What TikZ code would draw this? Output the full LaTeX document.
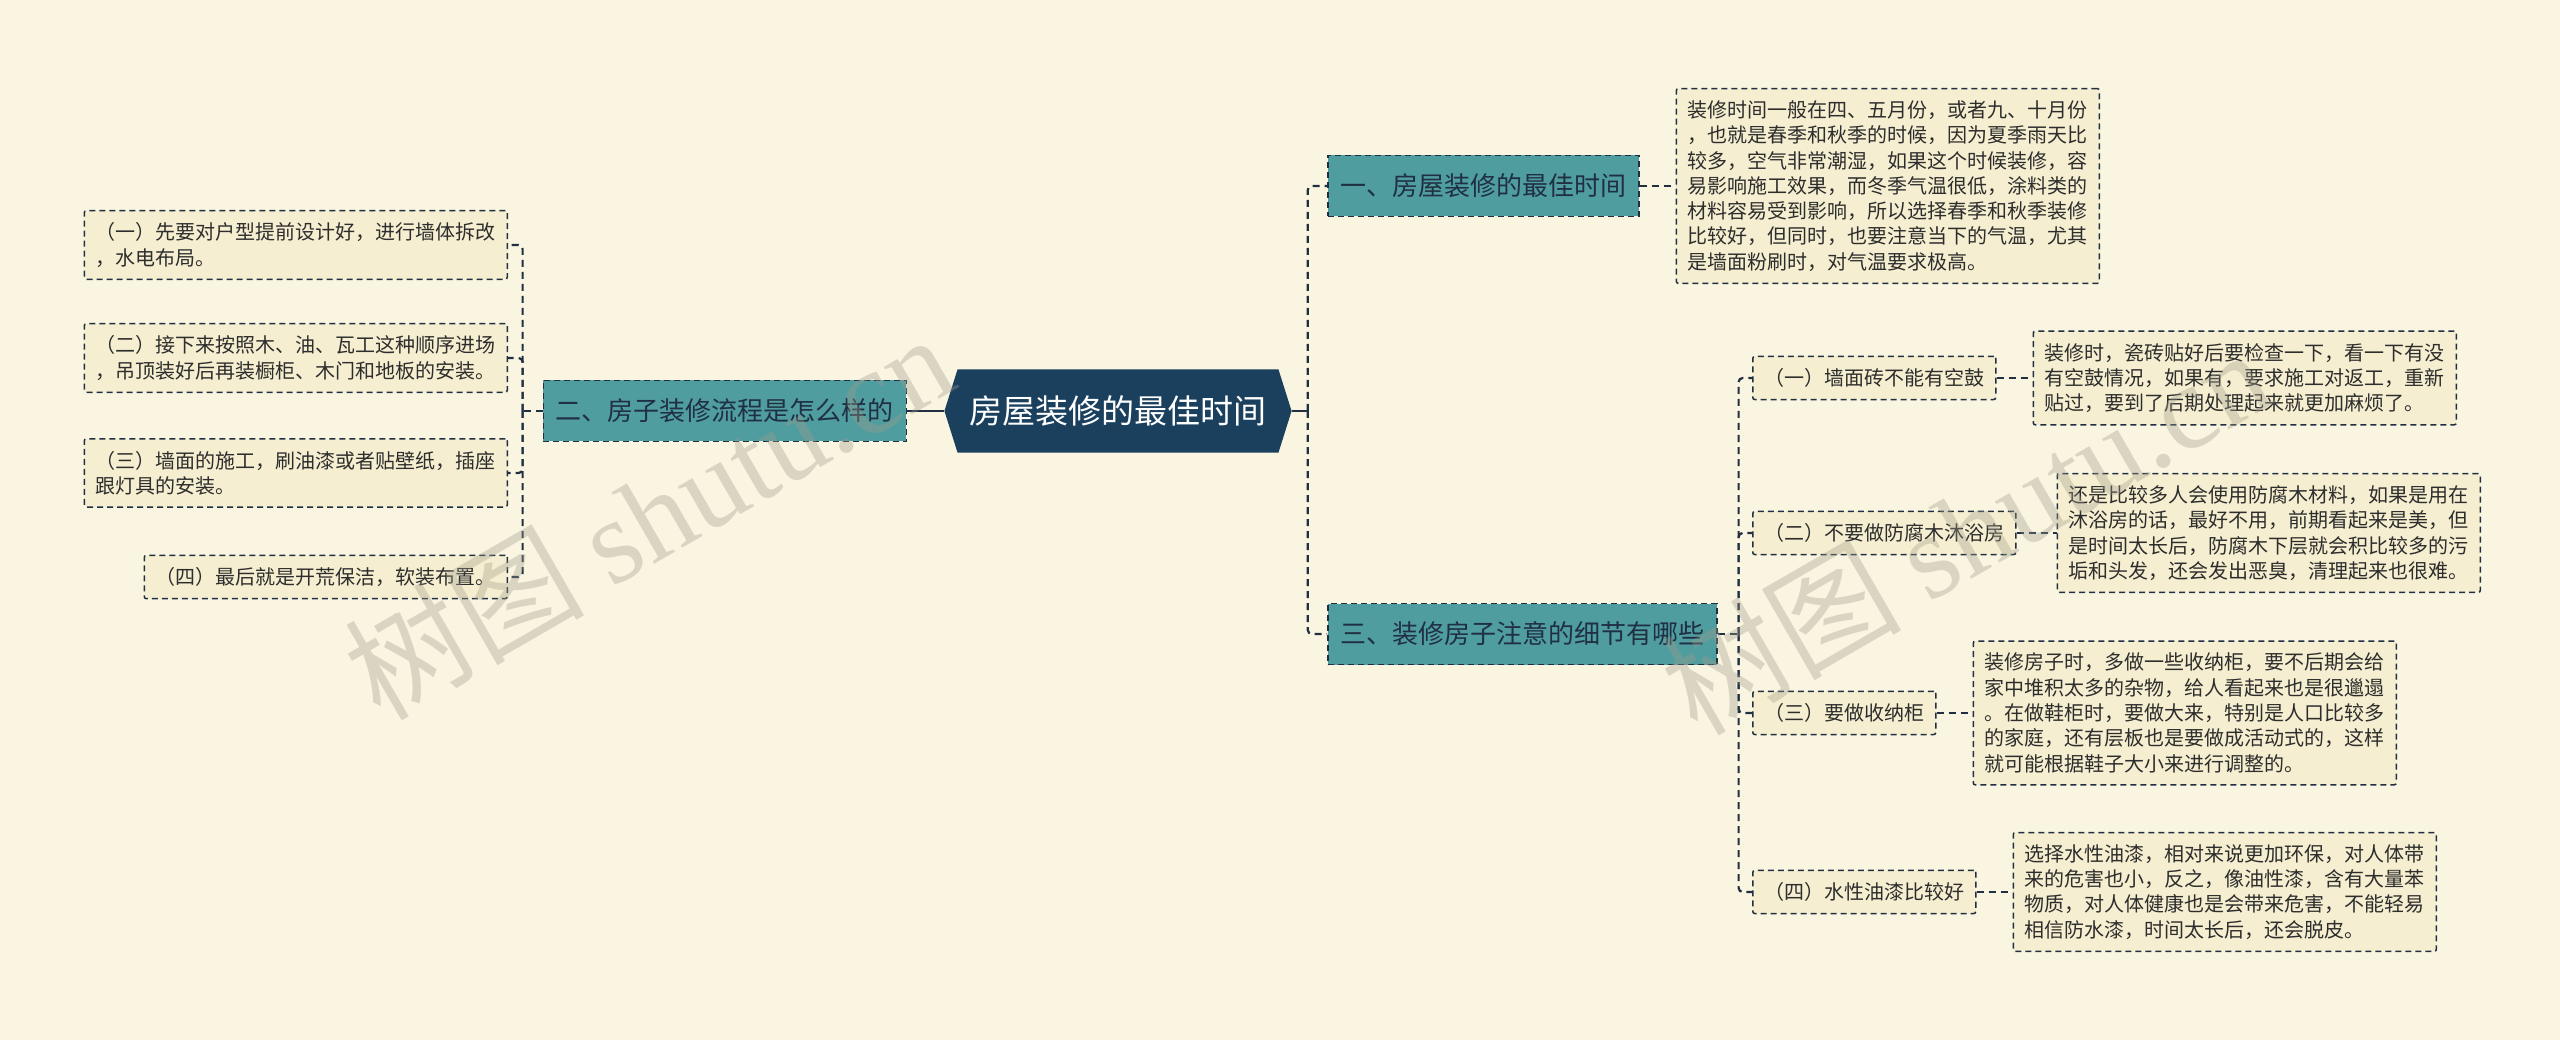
\documentclass[tikz,border=0pt]{standalone}
\usepackage{fontspec}
\setmainfont{Noto Sans CJK SC}
\newfontfamily\wmfont{Liberation Serif}
\usetikzlibrary{positioning, shapes.symbols}
\definecolor{bgcream}{RGB}{250,245,224}
\definecolor{leafcream}{RGB}{245,238,208}
\definecolor{tealbox}{RGB}{79,157,159}
\definecolor{navy}{RGB}{27,64,94}
\definecolor{linkdark}{RGB}{32,48,66}
\definecolor{inkgray}{RGB}{45,45,45}
\definecolor{wmgray}{RGB}{160,155,140}

\begin{document}
\begin{tikzpicture}[
      x=1pt, y=-1pt,
      node distance=36pt,
      root/.style={shape=signal, signal to=east and west, signal pointer angle=145,
                  fill=navy, text=white, minimum height=83pt, inner xsep=12pt,
                  font=\fontsize{33pt}{38pt}\selectfont},
      branch/.style={rectangle, draw=linkdark, dashed, line width=1.6pt,
                  dash pattern=on 6pt off 4pt, fill=tealbox, text=linkdark,
                  minimum height=61pt, inner xsep=12.5pt,
                  font=\fontsize{26pt}{30pt}\selectfont},
      leaf/.style={rectangle, rounded corners=2pt, draw=linkdark, line width=1.5pt,
                  dash pattern=on 6pt off 4pt, fill=leafcream, text=inkgray,
                  align=left, inner xsep=11.5pt, inner ysep=12pt,
                  font=\fontsize{20pt}{25.3pt}\selectfont},
      link/.style={draw=linkdark, line width=2.2pt, dash pattern=on 7pt off 5pt,
                  rounded corners=4pt},
      trunk/.style={draw=linkdark, line width=2.6pt},
      mark wm/.style={text=wmgray, opacity=0.35, rotate=30,
                  font=\fontsize{120pt}{124pt}\selectfont}
    ]
    \fill[bgcream] (0,0) rectangle (2560,1040);
    \useasboundingbox (0,0) rectangle (2560,1040);

    \node[root] (center) at (1118,411) {房屋装修的最佳时间};

    \node[branch, anchor=west] (b1) at (1327,186) {一、房屋装修的最佳时间};
    \node[branch, left=37pt of center] (b2) {二、房子装修流程是怎么样的};
    \node[branch, anchor=west] (b3) at (1327,634) {三、装修房子注意的细节有哪些};

    \node[leaf, right=of b1] (tx1) {装修时间一般在四、五月份，或者九、十月份\\
      ，也就是春季和秋季的时候，因为夏季雨天比\\
      较多，空气非常潮湿，如果这个时候装修，容\\
      易影响施工效果，而冬季气温很低，涂料类的\\
      材料容易受到影响，所以选择春季和秋季装修\\
      比较好，但同时，也要注意当下的气温，尤其\\
      是墙面粉刷时，对气温要求极高。};

    \node[leaf, anchor=east] (l1) at (508,245) {（一）先要对户型提前设计好，进行墙体拆改\\，水电布局。};
    \node[leaf, anchor=east] (l2) at (508,358) {（二）接下来按照木、油、瓦工这种顺序进场\\，吊顶装好后再装橱柜、木门和地板的安装。};
    \node[leaf, anchor=east] (l3) at (508,473) {（三）墙面的施工，刷油漆或者贴壁纸，插座\\跟灯具的安装。};
    \node[leaf, anchor=east] (l4) at (508,577) {（四）最后就是开荒保洁，软装布置。};

    \node[leaf, anchor=west] (s1) at (1752,378) {（一）墙面砖不能有空鼓};
    \node[leaf, anchor=west] (s2) at (1752,533) {（二）不要做防腐木沐浴房};
    \node[leaf, anchor=west] (s3) at (1752,713) {（三）要做收纳柜};
    \node[leaf, anchor=west] (s4) at (1752,892) {（四）水性油漆比较好};

    \node[leaf, right=of s1] (d1) {装修时，瓷砖贴好后要检查一下，看一下有没\\
      有空鼓情况，如果有，要求施工对返工，重新\\
      贴过，要到了后期处理起来就更加麻烦了。};
    \node[leaf, right=40pt of s2] (d2) {还是比较多人会使用防腐木材料，如果是用在\\
      沐浴房的话，最好不用，前期看起来是美，但\\
      是时间太长后，防腐木下层就会积比较多的污\\
      垢和头发，还会发出恶臭，清理起来也很难。};
    \node[leaf, right=of s3] (d3) {装修房子时，多做一些收纳柜，要不后期会给\\
      家中堆积太多的杂物，给人看起来也是很邋遢\\
      。在做鞋柜时，要做大来，特别是人口比较多\\
      的家庭，还有层板也是要做成活动式的，这样\\
      就可能根据鞋子大小来进行调整的。};
    \node[leaf, right=of s4] (d4) {选择水性油漆，相对来说更加环保，对人体带\\
      来的危害也小，反之，像油性漆，含有大量苯\\
      物质，对人体健康也是会带来危害，不能轻易\\
      相信防水漆，时间太长后，还会脱皮。};

    % connectors
    \draw[trunk] (center.east) -- ++(16,0) coordinate (jr);
    \draw[link] (jr) |- (b1.west);
    \draw[link] (jr) |- (b3.west);
    \draw[trunk] (center.west) -- (b2.east);
    \draw[link] (b2.west) -- ++(-20,0) coordinate (jl);
    \foreach \n in {l1,l2,l3,l4}
      \draw[link] (jl) |- (\n.east);
    \draw[link] (b1) -- (tx1);
    \draw[link] (b3.east) -- ++(21,0) coordinate (js);
    \foreach \i in {1,2,3,4} {
      \draw[link] (js) |- (s\i.west);
      \draw[link] (s\i) -- (d\i);
    }

    % watermark
    \node[mark wm] (wm1) at (648,515) {树图 {\wmfont shutu.cn}};
    \node[mark wm] (wm2) at (1965,530) {树图 {\wmfont shutu.cn}};
  \end{tikzpicture}
\end{document}
